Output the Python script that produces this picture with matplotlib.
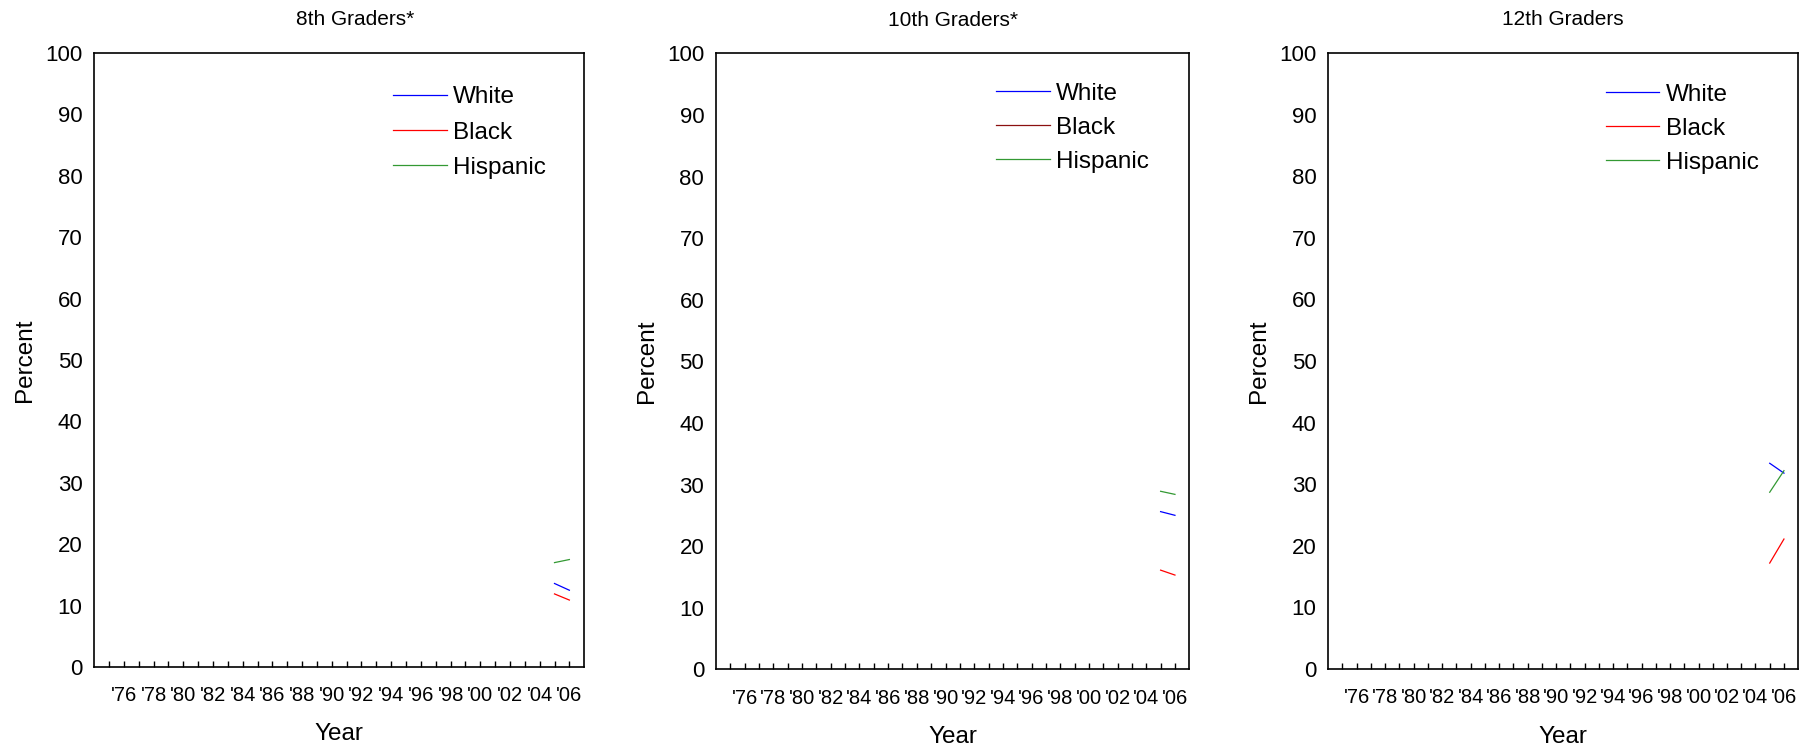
import matplotlib
matplotlib.use('Agg')
import matplotlib.pyplot as plt
from matplotlib.lines import Line2D

plt.rcParams['font.family'] = ['Liberation Sans', 'DejaVu Sans']

# data
years = [2005, 2006]
titles = ['8th Graders*', '10th Graders*', '12th Graders']
white = [[13.6, 12.5], [25.6, 25.0], [33.4, 31.8]]
black = [[11.9, 10.9], [16.1, 15.3], [17.2, 21.1]]
hispanic = [[17.0, 17.5], [28.9, 28.4], [28.7, 32.2]]

tick_years = list(range(1975, 2007))
tick_labels = ["'" + str(y)[2:] if y % 2 == 0 else '' for y in tick_years]
y_ticks = list(range(0, 101, 10))

# axes boxes in figure fractions
boxes = [[0.0519, 0.1083, 0.2698, 0.8209],
         [0.3943, 0.1052, 0.2606, 0.8235],
         [0.7314, 0.1056, 0.2588, 0.8235]]
title_x = [0.533, 0.5, 0.5]
legend_anchor = [(0.61, 0.946), (0.592, 0.952), (0.591, 0.95)]
legend_spacing = [0.55, 0.49, 0.49]
legend_black = ['#ff0000', '#8b1010', '#ff0000']

fig = plt.figure(figsize=(18.16, 7.48), dpi=100)

for i in range(3):
    ax = fig.add_axes(boxes[i])
    ax.plot(years, white[i], color='#0000ff', lw=0.9)
    ax.plot(years, black[i], color='#ff0000', lw=0.9)
    ax.plot(years, hispanic[i], color='#339933', lw=0.9)

    ax.set_xlim(1974, 2007)
    ax.set_ylim(0, 100)
    ax.set_xticks(tick_years)
    ax.set_xticklabels(tick_labels)
    ax.set_yticks(y_ticks)
    ax.tick_params(axis='x', direction='in', length=4, width=1, pad=14, labelsize=14.5)
    ax.tick_params(axis='y', length=0, pad=8.5, labelsize=16)
    for s in ax.spines.values():
        s.set_linewidth(1.2)
        s.set_color('black')

    ax.set_title(titles[i], fontsize=15, pad=20, x=title_x[i])
    ax.set_xlabel('Year', fontsize=17.5, labelpad=13)
    ax.set_ylabel('Percent', fontsize=17.5, labelpad=6.5)

    handles = [Line2D([], [], color='#0000ff', lw=0.9),
               Line2D([], [], color=legend_black[i], lw=0.9),
               Line2D([], [], color='#339933', lw=0.9)]
    ax.legend(handles, ['White', 'Black', 'Hispanic'], loc='upper left',
              bbox_to_anchor=legend_anchor[i], frameon=False, fontsize=17.5,
              borderpad=0, borderaxespad=0, handlelength=2.2,
              handletextpad=0.25, labelspacing=legend_spacing[i])

fig.savefig('out.png', dpi=100)
